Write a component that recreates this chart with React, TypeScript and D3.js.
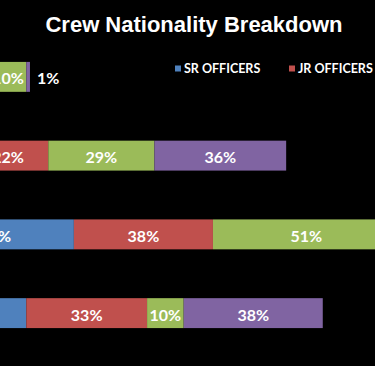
import React, { useEffect, useRef } from "react";
import * as d3 from "d3";

const title = "Crew Nationality Breakdown";
const categories = ["Nationality 1", "Nationality 2", "Nationality 3", "Nationality 4"];
const seriesNames = ["SR OFFICERS", "JR OFFICERS", "RATINGS", "CADETS"];
const srOfficers = [13, 14, 43, 30];
const jrOfficers = [7, 22, 38, 33];
const ratings = [10, 29, 51, 10];
const cadets = [1, 36, 25, 38];
const colors = ["#4f81bd", "#c0504d", "#9bbb59", "#8064a2"];

const W = 375;
const H = 366;

export default function App() {
  const ref = useRef<SVGSVGElement>(null);

  useEffect(() => {
    document.body.style.margin = "0";
    const svg = d3.select(ref.current);
    svg.selectAll("*").remove();

    svg.append("rect").attr("width", W).attr("height", H).attr("fill", "#000");

    svg
      .append("text")
      .attr("x", 194)
      .attr("y", 32)
      .attr("text-anchor", "middle")
      .attr("fill", "#fff")
      .style("font-family", "'Liberation Sans', Arial, sans-serif")
      .style("font-weight", "bold")
      .style("font-size", "22px")
      .text(title);

    // legend: only the entries that fall inside the visible area
    const legendItems = seriesNames
      .map((name, i) => ({ name, i, x: 175 + i * 114 }))
      .filter((d) => d.x < W);
    const legend = svg
      .selectAll("g.legend")
      .data(legendItems)
      .enter()
      .append("g")
      .attr("class", "legend")
      .attr("transform", (d) => `translate(${d.x}, 65.5)`);
    legend
      .append("rect")
      .attr("width", 6)
      .attr("height", 6)
      .attr("fill", (d) => colors[d.i]);
    legend
      .append("text")
      .attr("x", 9)
      .attr("y", 7.5)
      .attr("fill", "#fff")
      .style("font-family", "Lato, sans-serif")
      .style("font-weight", "bold")
      .style("font-size", "12.5px")
      .text((d) => d.name);

    const table = categories.map((c, i) => ({
      category: c,
      s0: srOfficers[i],
      s1: jrOfficers[i],
      s2: ratings[i],
      s3: cadets[i],
    }));
    const keys = ["s0", "s1", "s2", "s3"];
    const stacked = d3.stack<any>().keys(keys)(table);

    const x = d3.scaleLinear().domain([0, 100]).range([-83.5, 282.5]);
    const y = d3
      .scaleBand()
      .domain(categories)
      .range([37.5, 352.5])
      .paddingInner(0.62)
      .paddingOuter(0.31);

    const groups = svg
      .selectAll("g.series")
      .data(stacked)
      .enter()
      .append("g")
      .attr("class", "series")
      .attr("fill", (d, i) => colors[i]);

    groups
      .selectAll("rect")
      .data((d) => d)
      .enter()
      .append("rect")
      .attr("x", (d) => x(d[0]))
      .attr("y", (d) => y(d.data.category)!)
      .attr("width", (d) => x(d[1]) - x(d[0]))
      .attr("height", y.bandwidth());

    groups
      .selectAll("text")
      .data((d) => d)
      .enter()
      .append("text")
      .attr("fill", "#fff")
      .style("font-family", "Lato, sans-serif")
      .style("font-weight", "bold")
      .style("font-size", "16px")
      .attr("dominant-baseline", "central")
      .attr("y", (d) => y(d.data.category)! + y.bandwidth() / 2 + 1)
      .each(function (d) {
        const w = x(d[1]) - x(d[0]);
        const t = d3.select(this);
        if (w < 20) {
          t.attr("x", x(d[1]) + 7).attr("text-anchor", "start");
        } else {
          t.attr("x", (x(d[0]) + x(d[1])) / 2).attr("text-anchor", "middle");
        }
      })
      .text((d) => `${d[1] - d[0]}%`);
  }, []);

  return <svg ref={ref} width={W} height={H} style={{ display: "block" }} />;
}
